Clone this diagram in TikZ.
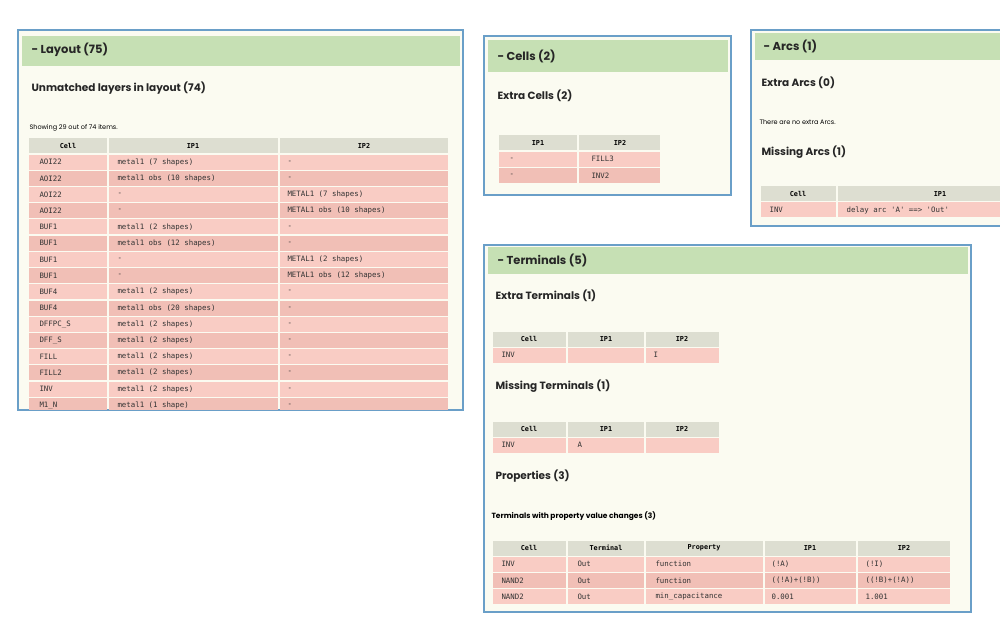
\documentclass[tikz,border=0pt]{standalone}
\usepackage{fontspec}
\setmainfont{Poppins}
\setmonofont{DejaVu Sans Mono}
\usepackage{tikz}
\usetikzlibrary{positioning}
\definecolor{paper}{HTML}{FBFBF1}
\definecolor{headgreen}{HTML}{C6E0B4}
\definecolor{frameblue}{HTML}{6A9FC8}
\definecolor{rowpink}{HTML}{F9CCC4}
\definecolor{rowdark}{HTML}{F1BFB6}
\definecolor{thgray}{HTML}{DDDED1}
\tikzset{
  panel/.style={fill=paper, draw=frameblue, line width=1.2pt},
  bar/.style={fill=headgreen},
  bartext/.style={anchor=west, font=\fontsize{11.5}{12}\selectfont\bfseries, text=black!85},
  sub/.style={anchor=west, font=\fontsize{10.5}{12}\selectfont\bfseries, text=black!85},
  note/.style={anchor=west, font=\fontsize{6.5}{8}\selectfont},
  th/.style={font=\ttfamily\bfseries\fontsize{6.8}{7}\selectfont},
  td/.style={anchor=west, font=\ttfamily\fontsize{7.4}{8}\selectfont, text=black!80}
}
% one row of a table: y, then x0/x1 of each column given as a list
\newcommand\hrow[3]{% y, color, column spans
  \foreach \xa/\xb in {#3}{\fill[#2] (\xa+1,#1-7.5) rectangle (\xb-1,#1+7.5);}}
\begin{document}
\begin{tikzpicture}[x=1pt, y=-1pt]
\useasboundingbox (0,0) rectangle (1000,628);
%\draw[step=50, black!20] (0,0) grid (1000,628);

% ---- Layout
\draw[panel] (18,30) rectangle (463,410);
\fill[bar] (22,36) rectangle (460,66);
\node[bartext] (lay) at (28,50) {- Layout (75)};
\node[sub] (laysub) at (28,88) {Unmatched layers in layout (74)};
\node[note] (laynote) at (26,128) {Showing 29 out of 74 items.};
\hrow{146}{thgray}{28/108,108/279,279/449}
\node[th] (lh1) at (68,146) {Cell};
\node[th] (lh2) at (193,146) {IP1};
\node[th] (lh3) at (364,146) {IP2};
\begin{scope}
\clip (20,31) rectangle (461,409);
\foreach \c/\a/\b [count=\n] in {AOI22/metal1 (7 shapes)/-, AOI22/metal1 obs (10 shapes)/-,
  AOI22/-/METAL1 (7 shapes), AOI22/-/METAL1 obs (10 shapes),
  BUF1/metal1 (2 shapes)/-, BUF1/metal1 obs (12 shapes)/-,
  BUF1/-/METAL1 (2 shapes), BUF1/-/METAL1 obs (12 shapes),
  BUF4/metal1 (2 shapes)/-, BUF4/metal1 obs (20 shapes)/-,
  DFFPC\_S/metal1 (2 shapes)/-, DFF\_S/metal1 (2 shapes)/-,
  FILL/metal1 (2 shapes)/-, FILL2/metal1 (2 shapes)/-,
  INV/metal1 (2 shapes)/-, M1\_N/metal1 (1 shape)/-}{
  \pgfmathsetmacro\y{146+16.2*\n}
  \ifodd\n \def\rc{rowpink}\else\def\rc{rowdark}\fi
  \hrow{\y}{\rc}{28/108,108/279,279/449}
  \node[td] (lc\n) at (36,\y) {\c};
  \node[td] (la\n) at (114,\y) {\a};
  \node[td] (lb\n) at (284,\y) {\b};
}
\end{scope}

% ---- Cells
\draw[panel] (484,36) rectangle (731,195);
\fill[bar] (488,40) rectangle (728,72);
\node[bartext] (cel) at (494,56) {- Cells (2)};
\node[sub] (celsub) at (494,96) {Extra Cells (2)};
\hrow{143}{thgray}{498/578,578/661}
\node[th] (ch1) at (538,143) {IP1};
\node[th] (ch2) at (620,143) {IP2};
\foreach \a/\b [count=\n] in {-/FILL3, -/INV2}{
  \pgfmathsetmacro\y{143+16.2*\n}
  \ifodd\n \def\rc{rowpink}\else\def\rc{rowdark}\fi
  \hrow{\y}{\rc}{498/578,578/661}
  \node[td] (ca\n) at (506,\y) {\a};
  \node[td] (cb\n) at (588,\y) {\b};
}

% ---- Arcs
\draw[panel] (751,30) rectangle (1003,226);
\fill[bar] (755,33) rectangle (1000,60);
\node[bartext] (arc) at (760,46) {- Arcs (1)};
\node[sub] (arcsub) at (758,83) {Extra Arcs (0)};
\node[note] (arcnote) at (756,122) {There are no extra Arcs.};
\node[sub] (arcmiss) at (758,152) {Missing Arcs (1)};
\hrow{194}{thgray}{760/837,837/1002}
\node[th] (ah1) at (798,194) {Cell};
\node[th] (ah2) at (940,194) {IP1};
\hrow{210}{rowpink}{760/837,837/1002}
\node[td] (ac1) at (766,210) {INV};
\node[td] (aa1) at (843,210) {delay arc 'A' ==> 'Out'};

% ---- Terminals
\draw[panel] (484,245) rectangle (971,612);
\fill[bar] (488,247) rectangle (968,274);
\node[bartext] (ter) at (494,260) {- Terminals (5)};
\node[sub] (tersub) at (492,296) {Extra Terminals (1)};
\hrow{339}{thgray}{492/567,567/645,645/720}
\node[th] (th1) at (529,339) {Cell};
\node[th] (th2) at (606,339) {IP1};
\node[th] (th3) at (682,339) {IP2};
\hrow{355}{rowpink}{492/567,567/645,645/720}
\node[td] (tc1) at (498,355) {INV};
\node[td] (tb1) at (650,355) {I};
\node[sub] (termiss) at (492,386) {Missing Terminals (1)};
\hrow{429}{thgray}{492/567,567/645,645/720}
\node[th] (tm1) at (529,429) {Cell};
\node[th] (tm2) at (606,429) {IP1};
\node[th] (tm3) at (682,429) {IP2};
\hrow{445}{rowpink}{492/567,567/645,645/720}
\node[td] (tmc1) at (498,445) {INV};
\node[td] (tma1) at (574,445) {A};
\node[sub] (prop) at (492,476) {Properties (3)};
\node[note, font=\fontsize{7.5}{9}\selectfont\bfseries] (propnote) at (488,516) {Terminals with property value changes (3)};
\hrow{548}{thgray}{492/567,567/645,645/764,764/857,857/951}
\node[th] (ph1) at (529,548) {Cell};
\node[th] (ph2) at (606,548) {Terminal};
\node[th] (ph3) at (704,548) {Property};
\node[th] (ph4) at (810,548) {IP1};
\node[th] (ph5) at (904,548) {IP2};
\foreach \c/\t/\p/\a/\b [count=\n] in {INV/Out/function/(!A)/(!I),
  NAND2/Out/function/((!A)+(!B))/((!B)+(!A)),
  NAND2/Out/min\_capacitance/0.001/1.001}{
  \pgfmathsetmacro\y{548+16.2*\n}
  \ifodd\n \def\rc{rowpink}\else\def\rc{rowdark}\fi
  \hrow{\y}{\rc}{492/567,567/645,645/764,764/857,857/951}
  \node[td] (pc\n) at (498,\y) {\c};
  \node[td] (pt\n) at (574,\y) {\t};
  \node[td] (pp\n) at (652,\y) {\p};
  \node[td] (pa\n) at (768,\y) {\a};
  \node[td] (pb\n) at (862,\y) {\b};
}
\end{tikzpicture}
\end{document}
